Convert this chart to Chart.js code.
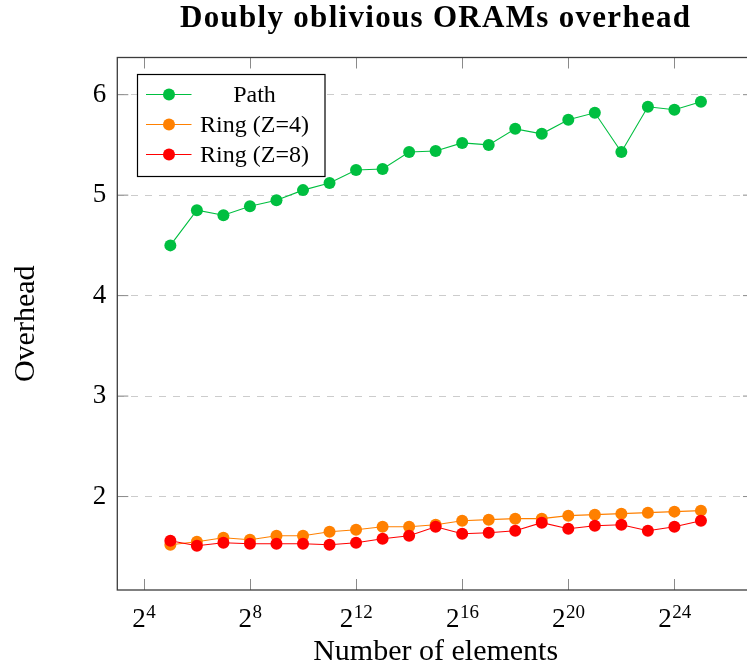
<!DOCTYPE html>
<html>
<head>
<meta charset="utf-8">
<script src="https://cdn.jsdelivr.net/npm/chart.js@4.4.0/dist/chart.umd.min.js"></script>
<style>
  html, body { margin: 0; padding: 0; background: #fff; overflow: hidden; }
  canvas { display: block; }
</style>
</head>
<body>
<canvas id="overheadChart" width="760" height="669"></canvas>
<script>
// log2 of the number of elements
const exponents = [5, 6, 7, 8, 9, 10, 11, 12, 13, 14, 15, 16, 17, 18, 19, 20, 21, 22, 23, 24, 25];

const pathOverhead = [4.50, 4.85, 4.80, 4.89, 4.95, 5.05, 5.12, 5.25, 5.26, 5.43, 5.44,
                      5.52, 5.50, 5.66, 5.61, 5.75, 5.82, 5.43, 5.88, 5.85, 5.93];
const ring4Overhead = [1.52, 1.55, 1.59, 1.57, 1.61, 1.61, 1.65, 1.67, 1.70, 1.70, 1.72,
                       1.76, 1.77, 1.78, 1.78, 1.81, 1.82, 1.83, 1.84, 1.85, 1.86];
const ring8Overhead = [1.56, 1.51, 1.54, 1.53, 1.53, 1.53, 1.52, 1.54, 1.58, 1.61, 1.70,
                       1.63, 1.64, 1.66, 1.74, 1.68, 1.71, 1.72, 1.66, 1.70, 1.76];

const xTickExponents = [4, 8, 12, 16, 20, 24];
const yTickValues = [2, 3, 4, 5, 6];

const seriesNames = ["Path", "Ring (Z=4)", "Ring (Z=8)"];
const seriesColors = ["#00bf40", "#ff8000", "#ff0000"];

const titleText = "Doubly oblivious ORAMs overhead";
const serif = "'Liberation Serif', 'Times New Roman', serif";

const toPoints = vals => vals.map((v, i) => ({ x: exponents[i], y: v }));

// box, inward ticks, 2^n labels, legend and title
const framePlugin = {
  id: "frame",
  afterDraw(chart) {
    const { ctx, chartArea: a, scales: { x, y } } = chart;
    ctx.save();

    ctx.strokeStyle = "#8a8a8a";
    ctx.lineWidth = 1;
    ctx.beginPath();
    x.ticks.forEach(t => {
      const px = Math.round(x.getPixelForValue(t.value)) + 0.5;
      ctx.moveTo(px, a.bottom); ctx.lineTo(px, a.bottom - 11);
      ctx.moveTo(px, a.top); ctx.lineTo(px, a.top + 11);
    });
    y.ticks.forEach(t => {
      const py = y.getPixelForValue(t.value);
      ctx.moveTo(a.left, py); ctx.lineTo(a.left + 11, py);
      ctx.moveTo(a.right, py); ctx.lineTo(a.right - 11, py);
    });
    ctx.stroke();

    ctx.strokeStyle = "#3c3c3c";
    ctx.lineWidth = 1.3;
    ctx.strokeRect(a.left, a.top, a.right - a.left, a.bottom - a.top);

    // x tick labels as 2 with a raised exponent
    ctx.fillStyle = "#000";
    ctx.textAlign = "left";
    ctx.textBaseline = "alphabetic";
    x.ticks.forEach(t => {
      const px = x.getPixelForValue(t.value);
      const exp = String(t.value);
      ctx.font = `27px ${serif}`;
      const wb = ctx.measureText("2").width;
      ctx.font = `19px ${serif}`;
      const we = ctx.measureText(exp).width;
      const left = px - (wb + we) / 2;
      ctx.font = `27px ${serif}`;
      ctx.fillText("2", left, a.bottom + 37);
      ctx.font = `19px ${serif}`;
      ctx.fillText(exp, left + wb + 0.5, a.bottom + 27.5);
    });

    // legend
    const lx = 137.5, ly = 74.5, lw = 187.5, lh = 102;
    ctx.fillStyle = "#fff";
    ctx.fillRect(lx, ly, lw, lh);
    ctx.strokeStyle = "#000";
    ctx.lineWidth = 1.2;
    ctx.strokeRect(lx, ly, lw, lh);
    chart.data.datasets.forEach((ds, i) => {
      const ry = ly + 20 + i * 30;
      ctx.strokeStyle = ds.borderColor;
      ctx.lineWidth = 1.2;
      ctx.beginPath();
      ctx.moveTo(lx + 8.5, ry); ctx.lineTo(lx + 54, ry);
      ctx.stroke();
      ctx.fillStyle = ds.pointBackgroundColor;
      ctx.beginPath();
      ctx.arc(lx + 31.5, ry, 6, 0, Math.PI * 2);
      ctx.fill();
      ctx.fillStyle = "#000";
      ctx.font = `24px ${serif}`;
      ctx.textAlign = "center";
      ctx.textBaseline = "middle";
      ctx.fillText(ds.label, lx + 117, ry + 1);
    });

    // title
    ctx.fillStyle = "#000";
    ctx.font = `bold 31px ${serif}`;
    ctx.letterSpacing = "1.3px";
    ctx.textAlign = "center";
    ctx.textBaseline = "alphabetic";
    ctx.fillText(titleText, (a.left + a.right) / 2, 27);
    ctx.restore();
  }
};

new Chart(document.getElementById("overheadChart"), {
  type: "line",
  data: {
    datasets: [pathOverhead, ring4Overhead, ring8Overhead].map((vals, i) => ({
      label: seriesNames[i],
      data: toPoints(vals),
      borderColor: seriesColors[i],
      backgroundColor: seriesColors[i],
      pointBackgroundColor: seriesColors[i],
      pointBorderWidth: 0,
      pointRadius: 6,
      borderWidth: 1.1,
      tension: 0,
      order: 2 - i
    }))
  },
  options: {
    responsive: false,
    animation: false,
    devicePixelRatio: 1,
    layout: { padding: { top: 57.5, right: 6, left: 0, bottom: 0 } },
    plugins: {
      legend: { display: false },
      title: { display: false },
      tooltip: { enabled: false }
    },
    scales: {
      x: {
        type: "linear",
        min: 3,
        max: 27,
        afterBuildTicks: s => { s.ticks = xTickExponents.map(v => ({ value: v })); },
        afterFit: s => { s.height = 79; },
        grid: { display: false },
        border: { display: false },
        ticks: { display: false },
        title: {
          display: true,
          text: "Number of elements",
          color: "#000",
          font: { family: serif, size: 30, lineHeight: 1.1 },
          padding: { top: 0, bottom: 0 }
        }
      },
      y: {
        min: 1.07,
        max: 6.37,
        afterBuildTicks: s => { s.ticks = yTickValues.map(v => ({ value: v })); },
        afterFit: s => { s.width = 117.3; },
        grid: { color: "#cccccc", lineWidth: 1, drawTicks: false },
        border: { display: false, dash: [7, 7] },
        ticks: {
          color: "#000",
          padding: 11,
          font: { family: serif, size: 27 }
        },
        title: {
          display: true,
          text: "Overhead",
          color: "#000",
          font: { family: serif, size: 30, lineHeight: 1.1 },
          padding: { top: 10, bottom: 0 }
        }
      }
    }
  },
  plugins: [framePlugin]
});
</script>
</body>
</html>
